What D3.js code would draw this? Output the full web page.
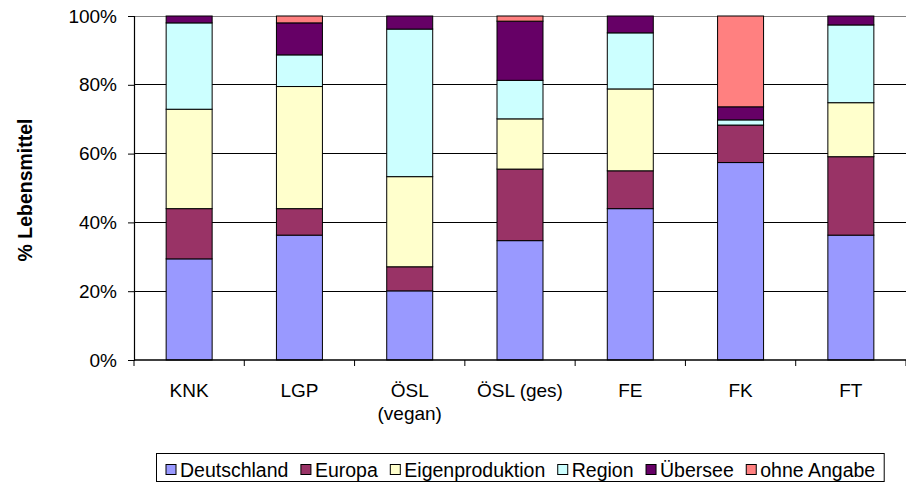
<!DOCTYPE html>
<html><head><meta charset="utf-8">
<script src="https://cdn.jsdelivr.net/npm/d3@7"></script>
<style>
html,body{margin:0;padding:0;background:#fff;}
text{font-family:"Liberation Sans",Arial,sans-serif;fill:#000;}
</style></head>
<body>
<svg id="c" width="906" height="483"></svg>
<script>
const categories = ["KNK", "LGP", "ÖSL\n(vegan)", "ÖSL (ges)", "FE", "FK", "FT"];
const seriesNames = ["Deutschland", "Europa", "Eigenproduktion", "Region", "Übersee", "ohne Angabe"];
const seriesColors = ["#9999FF", "#993366", "#FFFFCC", "#CCFFFF", "#660066", "#FF8080"];
const deutschland = [29.4, 36.3, 20.1, 34.7, 44.0, 57.4, 36.3];
const europa      = [14.6,  7.7,  7.0, 20.8, 11.0, 10.9, 22.8];
const eigen       = [28.9, 35.5, 26.2, 14.6, 23.8,  0.0, 15.7];
const region      = [25.1,  9.2, 42.9, 11.2, 16.3,  1.5, 22.6];
const uebersee    = [ 2.0,  9.3,  3.8, 17.2,  4.9,  3.8,  2.6];
const ohneAngabe  = [ 0.0,  2.0,  0.0,  1.5,  0.0, 26.4,  0.0];
const yTicks = [0, 20, 40, 60, 80, 100];
const yTitle = "% Lebensmittel";

const seriesValues = [deutschland, europa, eigen, region, uebersee, ohneAngabe];
const rows = categories.map((c, i) => {
  const r = {cat: c};
  seriesNames.forEach((s, j) => r[s] = seriesValues[j][i]);
  return r;
});

const svg = d3.select("#c");
const L = 134, R = 906, T = 16, B = 360;
const x = d3.scaleBand().domain(categories).range([L, R]).paddingInner(0.583).paddingOuter(0.2915);
const y = d3.scaleLinear().domain([0, 100]).range([B, T]);

// gridlines
svg.append("g").selectAll("line").data(yTicks.filter(t => t > 0 && t < 100)).join("line")
  .attr("x1", L).attr("x2", R).attr("y1", d => y(d)).attr("y2", d => y(d))
  .attr("stroke", "#000").attr("stroke-width", 1).attr("shape-rendering", "crispEdges");
svg.append("line").attr("x1", L).attr("x2", R).attr("y1", y(100)).attr("y2", y(100))
  .attr("stroke", "#808080").attr("stroke-width", 1).attr("shape-rendering", "crispEdges");

// stacked bars
const stack = d3.stack().keys(seriesNames)(rows);
svg.append("g").selectAll("g").data(stack).join("g")
  .attr("fill", (d, i) => seriesColors[i])
  .selectAll("rect").data(d => d.filter(p => p[1] - p[0] > 0)).join("rect")
  .attr("x", d => x(d.data.cat)).attr("width", x.bandwidth())
  .attr("y", d => y(d[1])).attr("height", d => y(d[0]) - y(d[1]))
  .attr("stroke", "#000").attr("stroke-width", 1);

// y axis
const yAxis = svg.append("g").attr("transform", `translate(${L},0)`)
  .call(d3.axisLeft(y).tickValues(yTicks).tickFormat(d => d + "%").tickSize(6).tickPadding(11));
yAxis.attr("font-family", null).attr("font-size", null);
yAxis.select(".domain").attr("stroke", "#000").attr("stroke-width", 1.2);
yAxis.selectAll(".tick line").attr("stroke", "#000");
yAxis.selectAll(".tick text").attr("font-size", "19px");

// x axis
const xTickPos = d3.range(categories.length + 1).map(i => L + i * x.step());
const xg = svg.append("g");
xg.append("line").attr("x1", L).attr("x2", R).attr("y1", B).attr("y2", B)
  .attr("stroke", "#000").attr("stroke-width", 1.5);
xg.selectAll("line.t").data(xTickPos).join("line").attr("class", "t")
  .attr("x1", d => d).attr("x2", d => d).attr("y1", B).attr("y2", B + 6)
  .attr("stroke", "#000");
xg.selectAll("text").data(categories).join("text")
  .attr("x", d => x(d) + x.bandwidth() / 2).attr("y", 397)
  .attr("text-anchor", "middle").attr("font-size", "19px")
  .each(function(d) {
    const parts = d.split("\n");
    d3.select(this).selectAll("tspan").data(parts).join("tspan")
      .attr("x", x(d) + x.bandwidth() / 2).attr("dy", (p, i) => i === 0 ? 0 : 23).text(p => p);
  });

// y title
svg.append("text").attr("transform", "translate(32,190) rotate(-90)")
  .attr("text-anchor", "middle").attr("font-size", "19.5px").attr("font-weight", "bold").text(yTitle);

// legend
const lg = svg.append("g");
const box = lg.append("rect").attr("fill", "#fff").attr("stroke", "#000").attr("stroke-width", 1);
let cx = 166;
seriesNames.forEach((s, i) => {
  lg.append("rect").attr("x", cx).attr("y", 464.5).attr("width", 10).attr("height", 10)
    .attr("fill", seriesColors[i]).attr("stroke", "#000").attr("stroke-width", 1);
  const t = lg.append("text").attr("x", cx + 14).attr("y", 477).attr("font-size", "19.5px").text(s);
  cx += 14 + t.node().getComputedTextLength() + 12.5;
});
box.attr("x", 156.5).attr("y", 453.5).attr("width", cx - 156 - 4).attr("height", 28);
</script>
</body></html>
